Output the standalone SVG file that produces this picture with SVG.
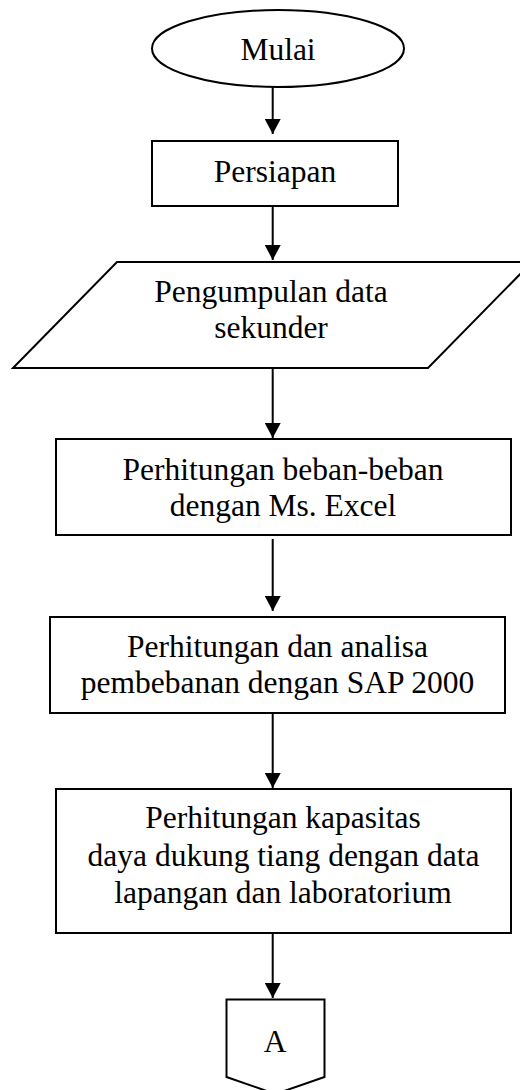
<svg xmlns="http://www.w3.org/2000/svg" width="520" height="1090" viewBox="0 0 520 1090">
<style>
.n{fill:#fff;stroke:#000;stroke-width:2}
.t{font-family:"Liberation Serif","Times New Roman",serif;font-size:31.5px;fill:#000;text-anchor:middle}
.c{stroke:#000;stroke-width:2;fill:none}
</style>
<defs>
<marker id="ah" markerUnits="userSpaceOnUse" markerWidth="16" markerHeight="16" refX="15" refY="8" orient="auto">
<path d="M0,0 L15,8 L0,16 Z" fill="#000"/>
</marker>
</defs>
<rect width="520" height="1090" fill="#fff"/>
<g id="connectors">
<line class="c" x1="272.7" y1="87" x2="272.7" y2="134" marker-end="url(#ah)"/>
<line class="c" x1="272.7" y1="206" x2="272.7" y2="260" marker-end="url(#ah)"/>
<line class="c" x1="272.7" y1="368" x2="272.7" y2="438" marker-end="url(#ah)"/>
<line class="c" x1="272.7" y1="539" x2="272.7" y2="611" marker-end="url(#ah)"/>
<line class="c" x1="272.7" y1="713" x2="272.7" y2="788" marker-end="url(#ah)"/>
<line class="c" x1="272.7" y1="933" x2="272.7" y2="998" marker-end="url(#ah)"/>
</g>
<g id="mulai">
<ellipse class="n" cx="278" cy="48.5" rx="126" ry="38.5"/>
<text class="t" x="278" y="60">Mulai</text>
</g>
<g id="persiapan">
<rect class="n" x="152" y="141" width="246" height="65"/>
<text class="t" x="275" y="181.7">Persiapan</text>
</g>
<g id="pengumpulan">
<polygon class="n" points="117,262 532,262 428,368 13,368"/>
<text class="t" x="271" y="301.7">Pengumpulan data</text>
<text class="t" x="271" y="338">sekunder</text>
</g>
<g id="beban">
<rect class="n" x="56" y="439" width="455" height="96"/>
<text class="t" x="283" y="480">Perhitungan beban-beban</text>
<text class="t" x="283" y="515.7">dengan Ms. Excel</text>
</g>
<g id="sap">
<rect class="n" x="50" y="617" width="455" height="96"/>
<text class="t" x="277.5" y="656.7">Perhitungan dan analisa</text>
<text class="t" x="277.5" y="693.3">pembebanan dengan SAP 2000</text>
</g>
<g id="kapasitas">
<rect class="n" x="56" y="789" width="455" height="144"/>
<text class="t" x="283" y="828.3">Perhitungan kapasitas</text>
<text class="t" x="283.5" y="866">daya dukung tiang dengan data</text>
<text class="t" x="283" y="903.3">lapangan dan laboratorium</text>
</g>
<g id="A">
<polygon class="n" points="226.5,999.5 324.5,999.5 324.5,1077 275.5,1094 226.5,1077"/>
<text class="t" x="275" y="1051.7">A</text>
</g>
</svg>
